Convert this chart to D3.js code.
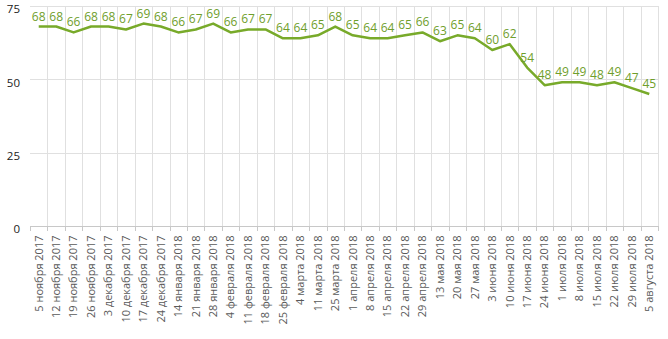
<!DOCTYPE html>
<html><head><meta charset="utf-8">
<script src="https://cdn.jsdelivr.net/npm/d3@7"></script>
<style>body{margin:0;background:#fff}svg{display:block}</style>
</head><body>
<svg id="c" width="668" height="339"></svg>
<script>
const categories = ["5 ноября 2017","12 ноября 2017","19 ноября 2017","26 ноября 2017","3 декабря 2017","10 декабря 2017","17 декабря 2017","24 декабря 2017","14 января 2018","21 января 2018","28 января 2018","4 февраля 2018","11 февраля 2018","18 февраля 2018","25 февраля 2018","4 марта 2018","11 марта 2018","25 марта 2018","1 апреля 2018","8 апреля 2018","15 апреля 2018","22 апреля 2018","29 апреля 2018","13 мая 2018","20 мая 2018","27 мая 2018","3 июня 2018","10 июня 2018","17 июня 2018","24 июня 2018","1 июля 2018","8 июля 2018","15 июля 2018","22 июля 2018","29 июля 2018","5 августа 2018"];
const values = [68,68,66,68,68,67,69,68,66,67,69,66,67,67,64,64,65,68,65,64,64,65,66,63,65,64,60,62,54,48,49,49,48,49,47,45];
const yTicks = [0,25,50,75];

(function(){
const svg = d3.select("#c");
const pl = 30, pr = 658, pt = 6, pb = 226;
const x = d3.scaleBand().domain(categories).range([pl, pr]).padding(0);
const y = d3.scaleLinear().domain([0,75]).range([pb, pt]);
const font = "'Open Sans', sans-serif";

svg.append("g").selectAll("line").data(yTicks.filter(d=>d>0)).join("line")
  .attr("x1", pl).attr("x2", pr)
  .attr("y1", d=>Math.round(y(d))+0.5).attr("y2", d=>Math.round(y(d))+0.5)
  .attr("stroke", "#e0e0e0").attr("stroke-width", 1);

const bounds = categories.map(c=>x(c)).slice(1).concat([pr]);
svg.append("g").selectAll("line").data(bounds).join("line")
  .attr("x1", d=>Math.round(d)+0.5).attr("x2", d=>Math.round(d)+0.5)
  .attr("y1", pt).attr("y2", pb)
  .attr("stroke", "#e0e0e0").attr("stroke-width", 1);

const xAxis = d3.axisBottom(x).tickSize(0).tickPadding(0);
const gx = svg.append("g").attr("transform", `translate(0,${pb+0.5})`).call(xAxis);
gx.select(".domain").attr("stroke", "#c8c8c8").attr("d", `M${pl},0H${pr}`);
gx.selectAll(".tick text")
  .attr("transform", "rotate(-90)")
  .attr("x", -9).attr("y", 0).attr("dy", "0.35em")
  .attr("text-anchor", "end")
  .attr("font-family", font).attr("font-size", 11).attr("fill", "#595959");
svg.append("g").selectAll("line").data([pl].concat(bounds)).join("line")
  .attr("x1", d=>Math.round(d)+0.5).attr("x2", d=>Math.round(d)+0.5)
  .attr("y1", pb).attr("y2", pb+5)
  .attr("stroke", "#c8c8c8");

const yAxis = d3.axisLeft(y).tickValues(yTicks).tickSize(0).tickPadding(0);
const gy = svg.append("g").attr("transform", `translate(20,3)`).call(yAxis);
gy.select(".domain").remove();
gy.selectAll(".tick text").attr("font-family", font).attr("font-size", 11.5).attr("fill", "#222");

const cx = d => x(d) + x.bandwidth()/2;
const line = d3.line().x((d,i)=>cx(categories[i])).y(d=>y(d));
svg.append("path").datum(values).attr("d", line)
  .attr("fill", "none").attr("stroke", "#78aa2a").attr("stroke-width", 2.5)
  .attr("stroke-linejoin", "round");

svg.append("g").selectAll("text").data(values).join("text")
  .attr("x", (d,i)=>cx(categories[i]))
  .attr("y", d=>y(d)-6)
  .attr("text-anchor", "middle")
  .attr("font-family", font).attr("font-size", 12).attr("fill", "#6f9e2b")
  .text(d=>d);
})();
</script>
</body></html>
